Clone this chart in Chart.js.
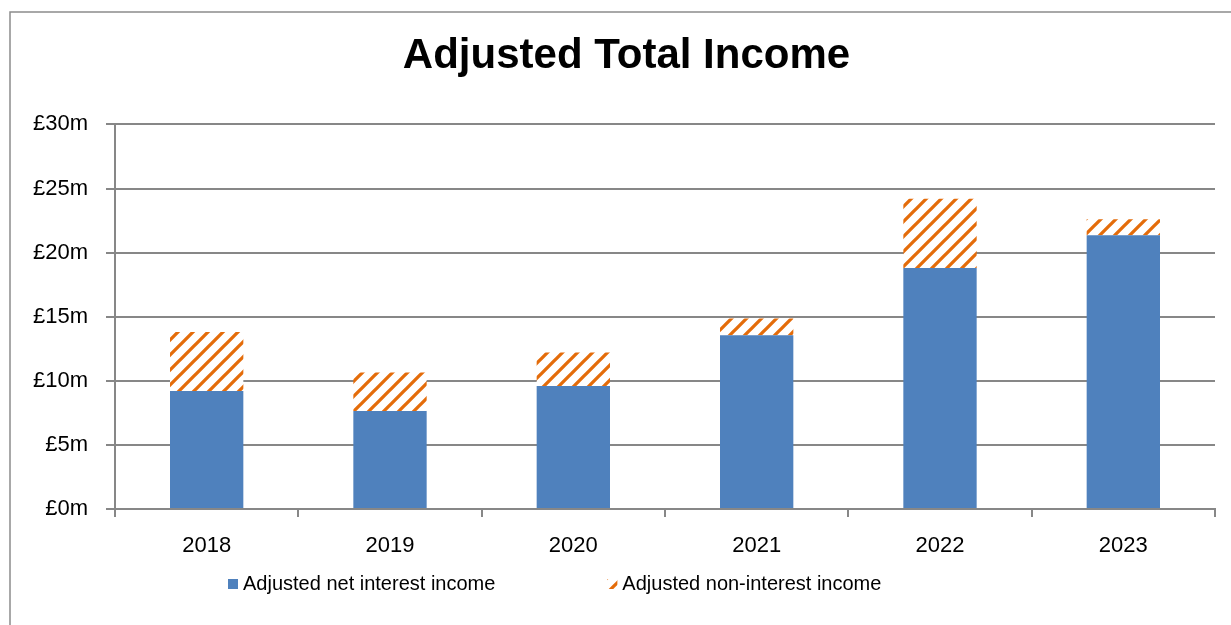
<!DOCTYPE html>
<html>
<head>
<meta charset="utf-8">
<title>Adjusted Total Income</title>
<script src="https://cdn.jsdelivr.net/npm/chart.js@4/dist/chart.umd.min.js"></script>
<style>
    html, body { margin: 0; padding: 0; background: #fff; }
    #wrap { width: 1231px; height: 625px; }
</style>
</head>
<body>
<div id="wrap"><canvas id="income"></canvas></div>
<script>
"use strict";

const years = ["2018", "2019", "2020", "2021", "2022", "2023"];
const netInterest = [9.2, 7.65, 9.6, 13.55, 18.8, 21.35];
const nonInterest = [4.6, 3.0, 2.6, 1.3, 5.4, 1.25];
const yTicks = [0, 5, 10, 15, 20, 25, 30];

const BLUE = "#4F81BD";
const ORANGE = "#E46C0A";
const GREY = "#878787";
const FONT = "'Liberation Sans', Arial, sans-serif";

// diagonal "/" stripes for the non-interest part
function stripes(color) {
    const size = 15;
    const c = document.createElement("canvas");
    c.width = size;
    c.height = size;
    const g = c.getContext("2d");
    g.fillStyle = "#fff";
    g.fillRect(0, 0, size, size);
    g.strokeStyle = color;
    g.lineWidth = 3.3;
    g.beginPath();
    g.moveTo(-2, size + 2); g.lineTo(size + 2, -2);
    g.moveTo(-2, 2); g.lineTo(2, -2);
    g.moveTo(size - 2, size + 2); g.lineTo(size + 2, size - 2);
    g.stroke();
    return g.createPattern(c, "repeat");
}

// outer frame round the whole chart; title centred on the frame, not the plot
const frame = {
    id: "frame",
    afterLayout(chart) {
        chart.titleBlock.left += 10;
        chart.titleBlock.right += 10;
    },
    beforeDraw(chart) {
        const ctx = chart.ctx;
        ctx.save();
        ctx.fillStyle = "#fff";
        ctx.fillRect(0, 0, chart.width, chart.height);
        ctx.strokeStyle = "#8c8c8c";
        ctx.lineWidth = 1.5;
        ctx.strokeRect(10, 12, 1240, 640);
        ctx.restore();
    }
};

// legend row under the axis, laid out like the spreadsheet one
const bottomLegend = {
    id: "bottomLegend",
    afterDraw(chart) {
        const ctx = chart.ctx;
        const y = 584;
        let x = 228;
        ctx.save();
        ctx.font = "20px " + FONT;
        ctx.textBaseline = "middle";
        chart.data.datasets.forEach(function(ds) {
            ctx.fillStyle = ds.backgroundColor;
            ctx.fillRect(x, y - 5, 10, 10);
            ctx.fillStyle = "#000";
            ctx.fillText(ds.label, x + 15, y);
            x += 15 + ctx.measureText(ds.label).width + 112;
        });
        ctx.restore();
    }
};

window.addEventListener("load", function() {
    const ctx = document.getElementById("income");
    new Chart(ctx, {
        "type": "bar",
        "data": {
            "labels": years,
            "datasets": [
                {
                    "label": "Adjusted net interest income",
                    "data": netInterest,
                    "backgroundColor": BLUE,
                    "borderWidth": 0
                },
                {
                    "label": "Adjusted non-interest income",
                    "data": nonInterest,
                    "backgroundColor": stripes(ORANGE),
                    "borderWidth": 0
                }
            ]
        },
        "plugins": [frame, bottomLegend],
        "options": {
            "responsive": true,
            "maintainAspectRatio": false,
            "animation": false,
            "datasets": {
                "bar": { "barPercentage": 0.4, "categoryPercentage": 1 }
            },
            "layout": {
                "padding": { "left": 18, "right": 16, "top": 12, "bottom": 60 }
            },
            "plugins": {
                "legend": { "display": false },
                "tooltip": { "enabled": false },
                "title": {
                    "display": true,
                    "text": "Adjusted Total Income",
                    "color": "#000",
                    "font": { "family": FONT, "size": 42, "weight": "bold" },
                    "padding": { "top": 19, "bottom": 43 }
                }
            },
            "scales": {
                "x": {
                    "stacked": true,
                    "grid": {
                        "drawOnChartArea": false,
                        "drawTicks": true,
                        "tickLength": 8,
                        "color": GREY,
                        "lineWidth": 2
                    },
                    "border": { "color": GREY, "width": 2 },
                    "ticks": {
                        "color": "#000",
                        "padding": 16,
                        "font": { "family": FONT, "size": 22 }
                    },
                    "afterFit": function(scale) { scale.height = 56; }
                },
                "y": {
                    "stacked": true,
                    "min": 0,
                    "max": 30,
                    "afterBuildTicks": function(scale) {
                        scale.ticks = yTicks.map(v => ({ "value": v }));
                    },
                    "grid": {
                        "color": GREY,
                        "lineWidth": 2,
                        "drawTicks": true,
                        "tickLength": 9
                    },
                    "border": { "color": GREY, "width": 2 },
                    "ticks": {
                        "color": "#000",
                        "padding": 18,
                        "font": { "family": FONT, "size": 22 },
                        "callback": function(v) { return "£" + v + "m"; }
                    },
                    "afterFit": function(scale) { scale.width = 97; }
                }
            }
        }
    });
});
</script>
</body>
</html>
